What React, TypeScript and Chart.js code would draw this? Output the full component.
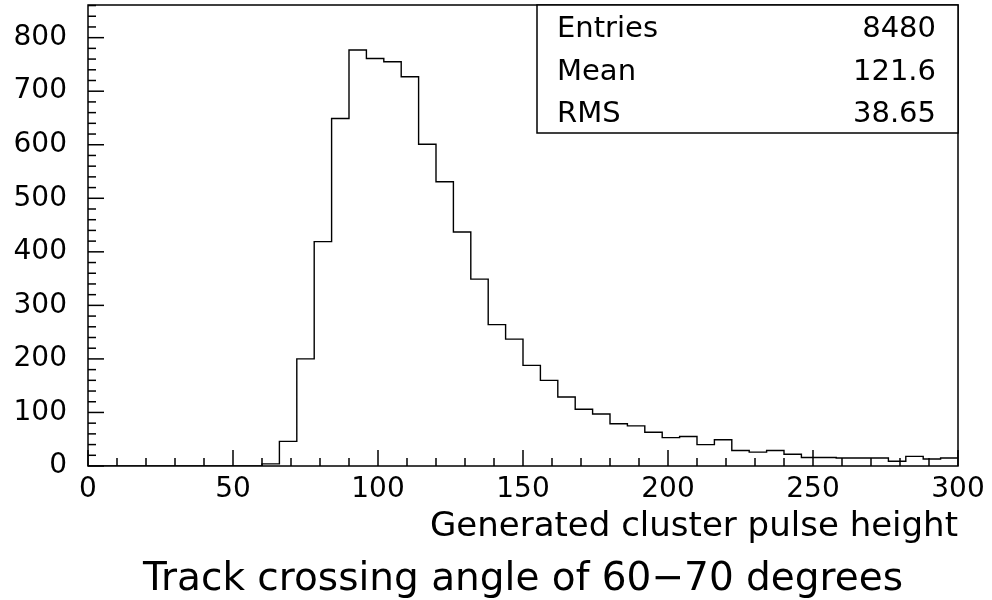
import React, { useEffect, useRef } from "react";
import { Chart, registerables } from "chart.js";

Chart.register(...registerables);

// Histogram bin edges (51 edges -> 50 bins)
const binEdges = [
  0, 6, 12, 18, 24, 30, 36, 42, 48, 54, 60, 66, 72, 78, 84, 90, 96, 102, 108, 114,
  120, 126, 132, 138, 144, 150, 156, 162, 168, 174, 180, 186, 192, 198, 204, 210,
  216, 222, 228, 234, 240, 246, 252, 258, 264, 270, 276, 282, 288, 294, 300,
];

// Counts per bin
const counts = [
  0, 0, 0, 0, 0, 0, 0, 0, 0, 0,
  4, 46, 200, 419, 649, 777, 761, 755, 727, 601,
  531, 437, 349, 264, 237, 188, 160, 129, 106, 97,
  79, 75, 63, 53, 55, 40, 49, 29, 26, 29,
  22, 16, 16, 15, 15, 15, 9, 18, 13, 15,
];

const statLabels = ["Entries", "Mean", "RMS"];
const statValues = ["8480", "121.6", "38.65"];

const xTitle = "Generated cluster pulse height";
const chartTitle = "Track crossing angle of 60\u221270 degrees";

const FONT = "'DejaVu Sans', sans-serif";

const framePlugin = {
  id: "rootFrame",
  afterDatasetsDraw(chart: any) {
    const { ctx, chartArea } = chart;
    const xs = chart.scales.x;
    const ys = chart.scales.y;
    ctx.save();
    ctx.strokeStyle = "#000";
    ctx.lineWidth = 1.5;
    // ticks on x axis (inside)
    for (let v = 0; v <= 300; v += 10) {
      const px = xs.getPixelForValue(v);
      const len = v % 50 === 0 ? 16 : 8;
      ctx.beginPath();
      ctx.moveTo(px, chartArea.bottom);
      ctx.lineTo(px, chartArea.bottom - len);
      ctx.stroke();
    }
    for (let v = 0; v <= ys.max; v += 20) {
      const py = ys.getPixelForValue(v);
      const len = v % 100 === 0 ? 16 : 8;
      ctx.beginPath();
      ctx.moveTo(chartArea.left, py);
      ctx.lineTo(chartArea.left + len, py);
      ctx.stroke();
    }
    // frame
    ctx.strokeRect(chartArea.left, chartArea.top, chartArea.right - chartArea.left, chartArea.bottom - chartArea.top);

    // stats box
    const bx = 537;
    const by = chartArea.top;
    const bw = chartArea.right - bx;
    const bh = 128;
    ctx.fillStyle = "#fff";
    ctx.fillRect(bx, by, bw, bh);
    ctx.strokeRect(bx, by, bw, bh);
    ctx.fillStyle = "#000";
    ctx.font = `29px ${FONT}`;
    ctx.textBaseline = "middle";
    const rowH = bh / statLabels.length;
    statLabels.forEach((lab, i) => {
      const cy = by + rowH * (i + 0.5) + 3;
      ctx.textAlign = "left";
      ctx.fillText(lab, bx + 20, cy);
      ctx.textAlign = "right";
      ctx.fillText(statValues[i], bx + bw - 22, cy);
    });
    ctx.restore();
  },
};

export default function App() {
  const ref = useRef<HTMLCanvasElement | null>(null);
  useEffect(() => {
    document.body.style.margin = "0";
    document.body.style.background = "#fff";
    const points: { x: number; y: number }[] = counts.map((c, i) => ({ x: binEdges[i], y: c }));
    points.push({ x: binEdges[binEdges.length - 1], y: counts[counts.length - 1] });
    const chart = new Chart(ref.current as HTMLCanvasElement, {
      type: "line",
      data: {
        datasets: [
          {
            data: points,
            stepped: "before",
            borderColor: "#000",
            borderWidth: 1.4,
            pointRadius: 0,
            fill: false,
          },
        ],
      },
      options: {
        animation: false,
        responsive: false,
        devicePixelRatio: 1,
        layout: { padding: { left: 0, right: 34, top: 5, bottom: -3 } },
        plugins: {
          legend: { display: false },
          tooltip: { enabled: false },
          title: {
            display: true,
            position: "bottom",
            fullSize: false,
            text: chartTitle,
            color: "#000",
            font: { family: FONT, size: 39, weight: "normal", lineHeight: 1.2 },
            padding: { top: 0, bottom: 0 },
          },
        },
        scales: {
          x: {
            type: "linear",
            min: 0,
            max: 300,
            grid: { display: false, drawTicks: false },
            border: { display: false },
            ticks: {
              stepSize: 50,
              color: "#000",
              font: { family: FONT, size: 28 },
              padding: 7,
              maxRotation: 0,
              autoSkip: false,
            },
            title: {
              display: true,
              text: xTitle,
              align: "end",
              color: "#000",
              font: { family: FONT, size: 34, lineHeight: 1.2 },
              padding: { top: 0, bottom: 9 },
            },
            afterFit: (s: any) => {
              s.height = 90.2;
              s.paddingLeft = 0;
              s.paddingRight = 0;
            },
          },
          y: {
            type: "linear",
            min: 0,
            max: 861,
            grid: { display: false, drawTicks: false },
            border: { display: false },
            ticks: {
              stepSize: 100,
              includeBounds: false,
              color: "#000",
              font: { family: FONT, size: 28 },
              padding: 21,
            },
            afterFit: (s: any) => {
              s.width = 88;
              s.paddingTop = 0;
              s.paddingBottom = 0;
            },
          },
        },
      } as any,
      plugins: [framePlugin],
    });
    return () => chart.destroy();
  }, []);
  return (
    <div style={{ width: 992, height: 600 }}>
      <canvas ref={ref} width={992} height={600} style={{ display: "block" }} />
    </div>
  );
}
